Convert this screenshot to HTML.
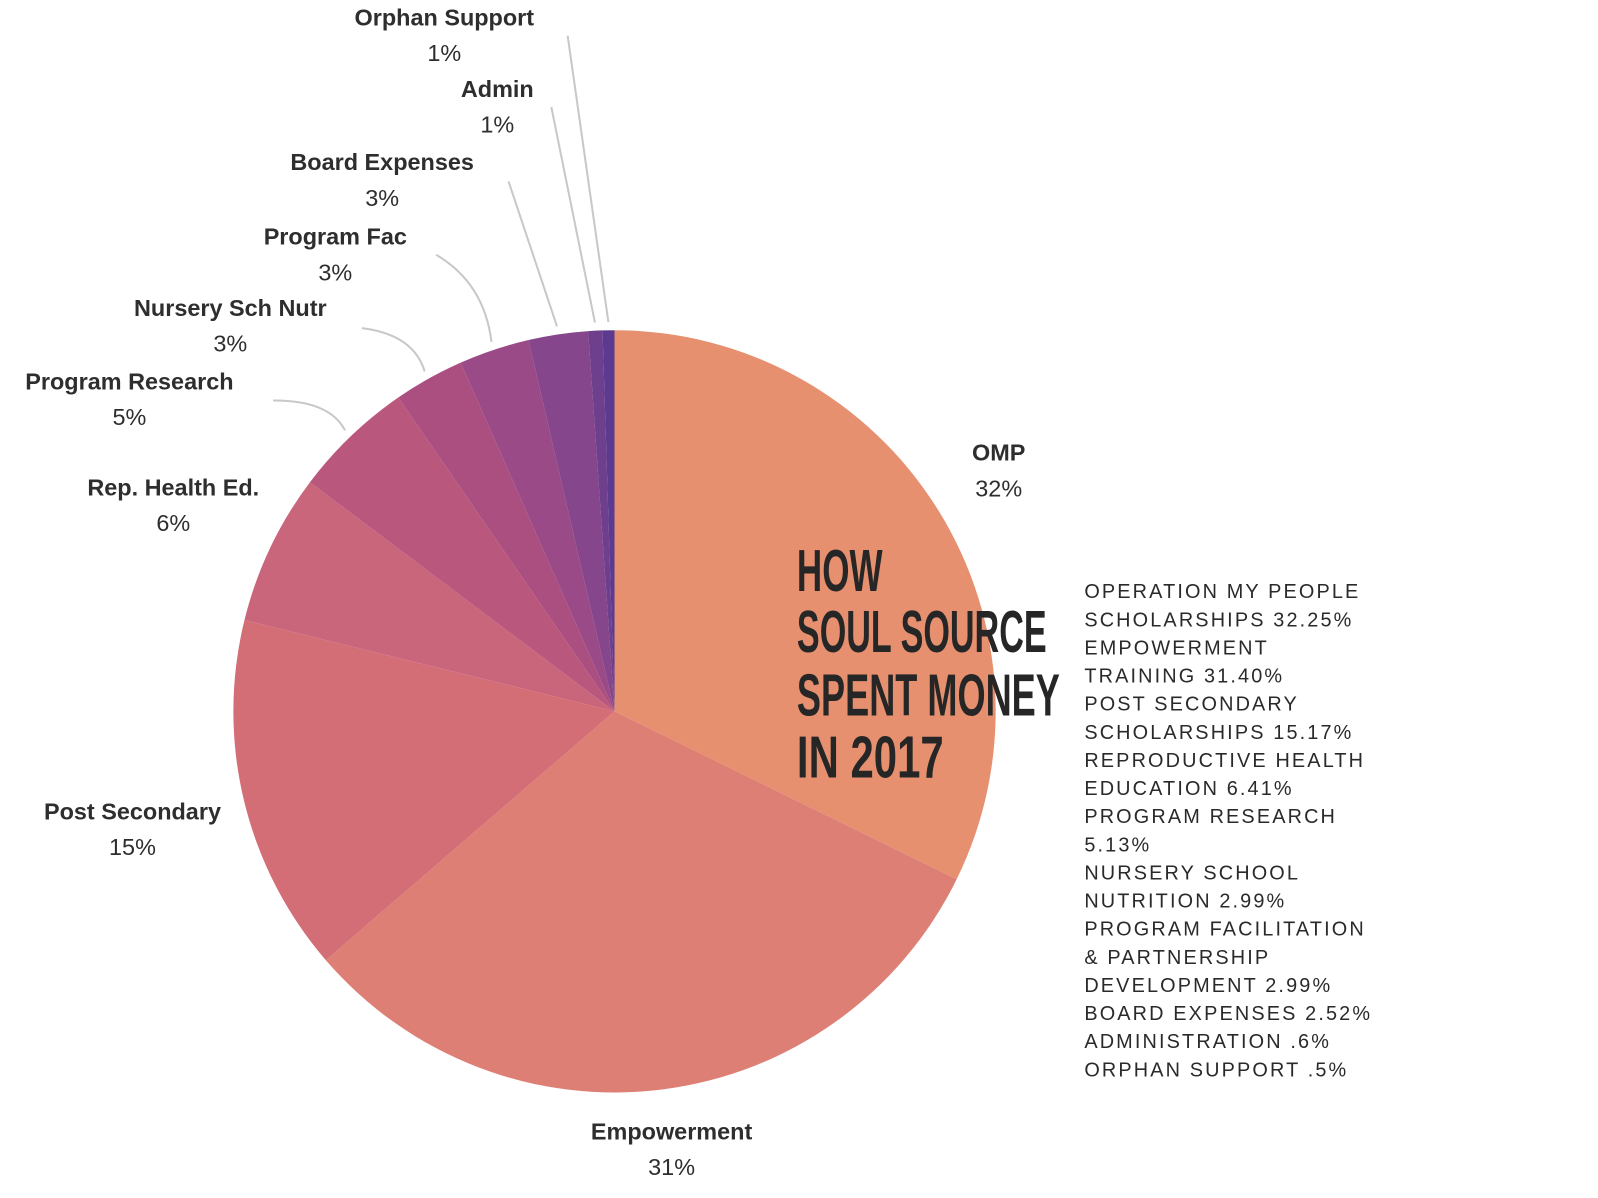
<!DOCTYPE html>
<html><head><meta charset="utf-8"><style>
html,body{margin:0;padding:0;background:#fff;}
svg{display:block;}
.lb{font-family:"Liberation Sans",sans-serif;font-size:23px;font-weight:bold;fill:#2e2e2e;}
.pc{font-family:"Liberation Sans",sans-serif;font-size:23px;fill:#2e2e2e;}
.lg{font-family:"Liberation Sans",sans-serif;font-size:19.5px;fill:#2a2a2a;letter-spacing:2.1px;}
.tt{font-family:"Liberation Sans Narrow","Liberation Sans",sans-serif;font-weight:bold;font-size:58px;fill:#262626;}
</style></head><body>
<svg id="chart" width="1598" height="1198" viewBox="0 0 1598 1198">
<g transform="scale(1.0191)">
<g id="slices"></g>
<g id="leaders"></g>
<g id="labels"></g>
<g>
<text class="tt" x="782" y="580" textLength="84" lengthAdjust="spacingAndGlyphs">HOW</text>
<text class="tt" x="782" y="640" textLength="245" lengthAdjust="spacingAndGlyphs">SOUL SOURCE</text>
<text class="tt" x="782" y="702" textLength="258" lengthAdjust="spacingAndGlyphs">SPENT MONEY</text>
<text class="tt" x="782" y="763" textLength="144" lengthAdjust="spacingAndGlyphs">IN 2017</text>
</g>
<g id="legend"></g>
</g>
</svg>
<script>
const categories=["OMP","Empowerment","Post Secondary","Rep. Health Ed.","Program Research","Nursery Sch Nutr","Program Fac","Board Expenses","Admin","Orphan Support"];
const values=[32.25,31.40,15.17,6.41,5.13,2.99,2.99,2.52,0.6,0.5];
const pctLabels=["32%","31%","15%","6%","5%","3%","3%","3%","1%","1%"];
const colors=["#E6906F","#DE7F75","#D46E76","#C9667C","#BA577C","#AB4F80","#9A4A86","#85468B","#6E3F8D","#5B3A8F"];
const legendLines=["OPERATION MY PEOPLE","SCHOLARSHIPS 32.25%","EMPOWERMENT","TRAINING 31.40%","POST SECONDARY","SCHOLARSHIPS 15.17%","REPRODUCTIVE HEALTH","EDUCATION 6.41%","PROGRAM RESEARCH","5.13%","NURSERY SCHOOL","NUTRITION 2.99%","PROGRAM FACILITATION","& PARTNERSHIP","DEVELOPMENT 2.99%","BOARD EXPENSES 2.52%","ADMINISTRATION .6%","ORPHAN SUPPORT .5%"];
const labelPos=[[980,452,null,null],[659,1118,null,null],[130,804,null,null],[170,486,null,null],[127,382,268,393],[226,310,355,322],[329,240,428,250],[375,167,499,178],[488,95,541,105],[436,25,557,35]];
const NS="http://www.w3.org/2000/svg";
const cx=603,cy=698,r=374;
const total=values.reduce((a,b)=>a+b,0);
function pt(a,rr){return [cx+rr*Math.sin(a),cy-rr*Math.cos(a)];}
let acc=0;
const gS=document.getElementById('slices'),gL=document.getElementById('leaders'),gT=document.getElementById('labels');
values.forEach((v,i)=>{
  const a0=acc/total*2*Math.PI; acc+=v; const a1=acc/total*2*Math.PI;
  const p0=pt(a0,r),p1=pt(a1,r);
  const path=document.createElementNS(NS,'path');
  path.setAttribute('d',`M${cx},${cy}L${p0[0]},${p0[1]}A${r},${r} 0 ${a1-a0>Math.PI?1:0} 1 ${p1[0]},${p1[1]}Z`);
  path.setAttribute('fill',colors[i]);
  
  
  gS.appendChild(path);
  const lp=labelPos[i];
  if(lp[2]!==null){
    const am=(a0+a1)/2,e=pt(am,r+8);
    const ln=document.createElementNS(NS,'path');
    const c=[(lp[2]+e[0])/2+(i<7?20:0),(lp[3]+e[1])/2-(i<7?15:0)];
    ln.setAttribute('d',`M${lp[2]},${lp[3]}Q${c[0]},${c[1]} ${e[0]},${e[1]}`);
    ln.setAttribute('fill','none');ln.setAttribute('stroke','#c8c8c8');ln.setAttribute('stroke-width','2');
    
    
    gL.appendChild(ln);
  }
  const t=document.createElementNS(NS,'text');
  t.setAttribute('class','lb');t.setAttribute('x',lp[0]);t.setAttribute('y',lp[1]);t.setAttribute('text-anchor','middle');
  t.textContent=categories[i];
  
  
  gT.appendChild(t);
  const p=document.createElementNS(NS,'text');
  p.setAttribute('class','pc');p.setAttribute('x',lp[0]);p.setAttribute('y',lp[1]+35);p.setAttribute('text-anchor','middle');
  p.textContent=pctLabels[i];
  
  
  gT.appendChild(p);
});
const gG=document.getElementById('legend');
legendLines.forEach((s,i)=>{
  const t=document.createElementNS(NS,'text');
  t.setAttribute('class','lg');t.setAttribute('x',1064);t.setAttribute('y',587+i*27.6);
  t.textContent=s;
  
  
  gG.appendChild(t);
});
</script>
</body></html>
